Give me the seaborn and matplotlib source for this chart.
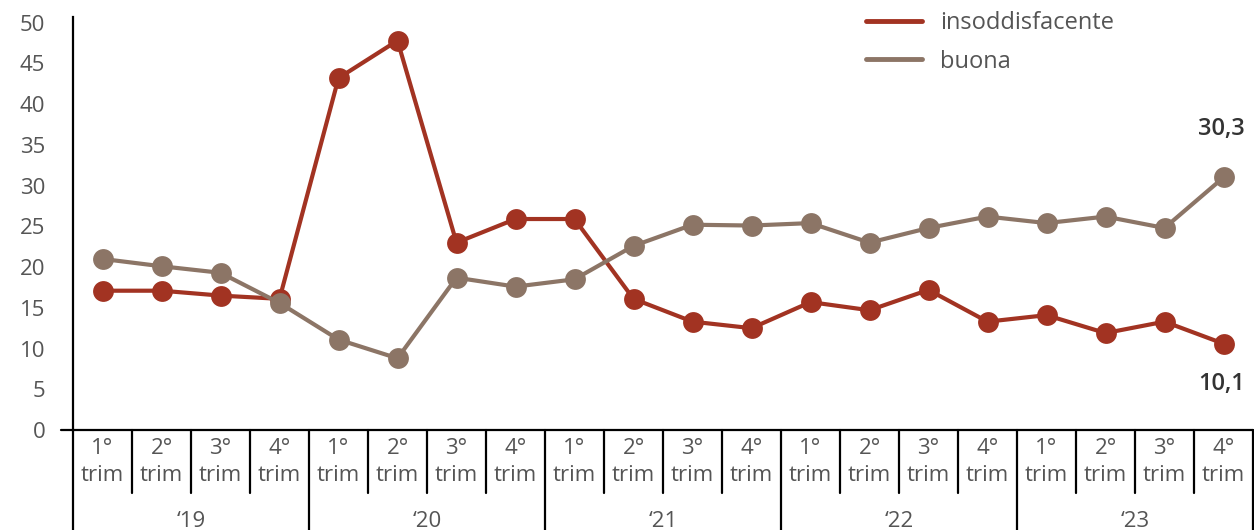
import pandas as pd
import matplotlib.pyplot as plt
import matplotlib.transforms as mtransforms
import seaborn as sns

# Data
years = ["‘19", "‘20", "‘21", "‘22", "‘23"]
quarters = ["1°", "2°", "3°", "4°"]
periods = [f"{q} trim {y}" for y in years for q in quarters]

insoddisfacente = [17.1, 17.1, 16.5, 16.1, 43.2, 47.8, 23.0, 25.9, 25.9, 16.1,
                   13.3, 12.5, 15.7, 14.7, 17.2, 13.3, 14.1, 11.9, 13.3, 10.6]
buona = [21.0, 20.1, 19.3, 15.6, 11.1, 8.8, 18.7, 17.6, 18.5, 22.6,
         25.2, 25.1, 25.4, 23.0, 24.8, 26.2, 25.4, 26.2, 24.8, 31.0]
last_labels = {"insoddisfacente": "10,1", "buona": "30,3"}

RED = "#A23322"
BROWN = "#8C7566"
GREY = "#555555"

df = pd.DataFrame({"periodo": periods * 2,
                   "valore": insoddisfacente + buona,
                   "serie": ["insoddisfacente"] * len(periods) + ["buona"] * len(periods)})

sns.set_style("white")
plt.rcParams["font.family"] = ["Open Sans", "DejaVu Sans"]

fig = plt.figure(figsize=(12.54, 5.30), dpi=100)
ax = fig.add_axes([73 / 1254, 100 / 530, 1180 / 1254, 413 / 530])

sns.lineplot(data=df, x="periodo", y="valore", hue="serie",
             palette={"insoddisfacente": RED, "buona": BROWN},
             hue_order=["insoddisfacente", "buona"],
             marker="o", markersize=15, markeredgewidth=0, linewidth=3,
             sort=False, ax=ax)

ax.set_xlim(-0.5, len(periods) - 0.5)
ax.set_ylim(0, 50.7)
ax.set_yticks(range(0, 51, 5))
ax.tick_params(axis="y", length=0, pad=20, labelsize=16, labelcolor=GREY)
ax.set_xticks([])
ax.set_xlabel("")
ax.set_ylabel("")
for s in ["top", "right", "bottom"]:
    ax.spines[s].set_visible(False)
ax.spines["left"].set_color("black")
ax.spines["left"].set_linewidth(1.6)

# x axis line, slightly extended to the left
trans = mtransforms.blended_transform_factory(ax.transData, ax.transAxes)
ax.plot([-0.7, len(periods) - 0.5], [0, 0], color="black", lw=1.6,
        transform=trans, clip_on=False)

# category separators and labels
for i in range(len(periods) + 1):
    x = i - 0.5
    bottom = -0.245 if i % 4 == 0 else -0.153
    ax.plot([x, x], [0, bottom], color="black", lw=1.6, transform=trans, clip_on=False)

for i in range(len(periods)):
    ax.text(i, -0.078, quarters[i % 4] + "\ntrim", transform=trans, ha="center", va="center",
            fontsize=16, color=GREY, linespacing=1.4)

for j, y in enumerate(years):
    ax.text(j * 4 + 1.5, -0.222, y, transform=trans, ha="center", va="center",
            fontsize=16, color=GREY)

# labels on the last points
last = len(periods) - 1
ax.annotate(last_labels["buona"], (last, buona[-1]), xytext=(-2, 48),
            textcoords="offset pixels", ha="center", va="center",
            fontsize=17, color="#333333", fontweight="semibold")
ax.annotate(last_labels["insoddisfacente"], (last, insoddisfacente[-1]), xytext=(-2, -40),
            textcoords="offset pixels", ha="center", va="center",
            fontsize=17, color="#333333", fontweight="semibold")

handles, labels = ax.get_legend_handles_labels()
for h in handles:
    h.set_marker("")
    h.set_linewidth(3.5)
ax.legend(handles, labels, loc="upper left", bbox_to_anchor=(845 / 1254, 1.019),
          bbox_transform=fig.transFigure, frameon=False, fontsize=17,
          handlelength=2.37, handletextpad=0.76, labelspacing=0.61, labelcolor=GREY)

fig.savefig("out.png", dpi=100)
